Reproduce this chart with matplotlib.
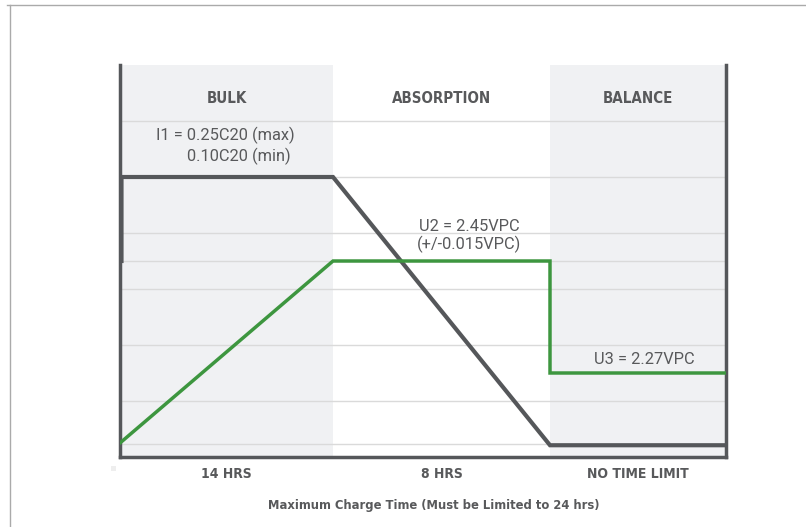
import matplotlib.pyplot as plt
from matplotlib.patches import Rectangle

# 資料
phases = ['BULK', 'ABSORPTION', 'BALANCE']
phase_edges = [0, 213, 430, 606]
phase_times = ['14 HRS', '8 HRS', 'NO TIME LIMIT']
shaded = [True, False, True]

current_x = [1.5, 1.5, 213, 430, 606]
current_y = [3.5, 5.0, 5.0, 0.21, 0.21]
voltage_x = [0, 213, 430, 430, 606]
voltage_y = [0.25, 3.5, 3.5, 1.5, 1.5]

grid_y = [0.23, 1, 2, 3, 3.5, 4, 5, 6]

DARK = '#55575a'
GREEN = '#3d963f'
TXT = '#58595b'
bold_font = ['DejaVu Sans']
reg_font = ['Roboto', 'DejaVu Sans']

fig = plt.figure(figsize=(8.06, 5.27), dpi=100)
fig.patch.set_facecolor('white')

# 外框
fig.add_artist(plt.Line2D([7/806, 1], [1-5/527, 1-5/527], color='#aaaaaa', lw=1))
fig.add_artist(plt.Line2D([10/806, 10/806], [0, 1-5/527], color='#aaaaaa', lw=1))
fig.add_artist(Rectangle((111/806, 1-471/527), 5/806, 5/527, color='#eeeeee', lw=0))

ax = fig.add_axes([120/806, 1-457/527, 606/806, 392/527])
ax.set_xlim(phase_edges[0], phase_edges[-1])
ax.set_ylim(0, 7)

# 底色
for i in range(len(phases)):
    if shaded[i]:
        ax.axvspan(phase_edges[i], phase_edges[i+1], color='#f0f1f3', lw=0, zorder=0)

for g in grid_y:
    ax.axhline(g, color='#dadada', lw=1, zorder=1)

ax.plot(current_x, current_y, color=DARK, lw=3, zorder=3, solid_joinstyle='miter')
ax.plot(voltage_x, voltage_y, color=GREEN, lw=2.5, zorder=3, solid_joinstyle='miter')

# 文字
for i in range(len(phases)):
    xc = (phase_edges[i] + phase_edges[i+1]) / 2
    ax.text(xc, 6.41, phases[i], ha='center', va='center', fontsize=10.8,
            fontweight='bold', color=TXT, family=bold_font, stretch='condensed')
    ax.text(xc, -0.3, phase_times[i], ha='center', va='center', fontsize=10,
            fontweight='bold', color=TXT, family=bold_font, stretch='condensed', clip_on=False)

ax.text(175, 5.75, 'I1 = 0.25C20 (max)', ha='right', va='center', fontsize=11.8, color=TXT, family=reg_font)
ax.text(171, 5.36, '0.10C20 (min)', ha='right', va='center', fontsize=11.8, color=TXT, family=reg_font)
ax.text(349, 4.11, 'U2 = 2.45VPC', ha='center', va='center', fontsize=11.8, color=TXT, family=reg_font)
ax.text(349, 3.79, '(+/-0.015VPC)', ha='center', va='center', fontsize=11.8, color=TXT, family=reg_font)
ax.text(524, 1.75, 'U3 = 2.27VPC', ha='center', va='center', fontsize=11.8, color=TXT, family=reg_font)

ax.text(314, -0.875, 'Maximum Charge Time (Must be Limited to 24 hrs)', ha='center', va='center',
        fontsize=9.3, fontweight='bold', color=TXT, family=bold_font, stretch='condensed', clip_on=False)

# 軸線
ax.spines['top'].set_visible(False)
for s in ['left', 'right', 'bottom']:
    ax.spines[s].set_color(DARK)
    ax.spines[s].set_linewidth(2.5)
ax.set_xticks([])
ax.set_yticks([])

plt.savefig('out.png', dpi=100)
